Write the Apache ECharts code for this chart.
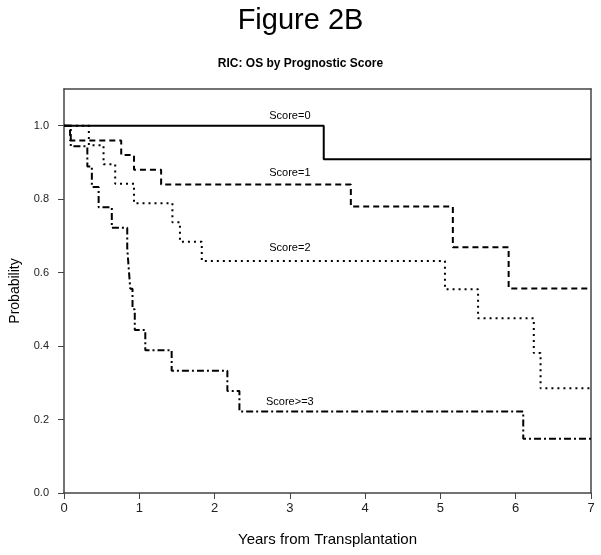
<!DOCTYPE html>
<html>
<head>
<meta charset="utf-8">
<script src="https://cdn.jsdelivr.net/npm/echarts@6/dist/echarts.min.js"></script>
<style>
html,body{margin:0;padding:0;background:#fff;}
#chart{width:601px;height:555px;}
</style>
</head>
<body>
<div id="chart"></div>
<script>
// ---- data ----
const xTicks = [0, 1, 2, 3, 4, 5, 6, 7];
const yTicks = [0, 0.2, 0.4, 0.6, 0.8, 1.0];
const seriesNames = ['Score=0', 'Score=1', 'Score=2', 'Score>=3'];
const score0 = [[0, 1], [3.45, 0.909], [7, 0.909]];
const score1 = [[0, 1], [0.08, 0.96], [0.76, 0.92], [0.93, 0.88], [1.29, 0.84], [3.81, 0.78], [5.165, 0.669], [5.906, 0.557], [7, 0.557]];
const score2 = [[0, 1], [0.33, 0.947], [0.525, 0.895], [0.68, 0.842], [0.93, 0.789], [1.44, 0.737], [1.54, 0.684], [1.83, 0.632], [5.06, 0.555], [5.50, 0.476], [6.24, 0.381], [6.33, 0.285], [7, 0.285]];
const score3 = [[0, 1], [0.09, 0.944], [0.31, 0.889], [0.37, 0.833], [0.46, 0.778], [0.635, 0.722], [0.84, 0.667], [0.86, 0.611], [0.88, 0.556], [0.91, 0.5], [0.94, 0.444], [1.08, 0.389], [1.43, 0.333], [2.17, 0.278], [2.33, 0.222], [6.10, 0.148], [7, 0.148]];
// label anchor points (data coords)
const labelAt = [[3.0, 1.027], [3.0, 0.872], [3.0, 0.668], [3.0, 0.248]];

const curves = [score0, score1, score2, score3];
const dashes = ['solid', [6, 4], [2, 4], [7, 3, 2, 3]];
const FONT = 'Liberation Sans, Arial, sans-serif';
const axisColor = '#444';

const chart = echarts.init(document.getElementById('chart'), null, {renderer: 'canvas'});
const option = {
  animation: false,
  backgroundColor: '#fff',
  title: [
    {text: 'Figure 2B', left: 'center', top: 1,
     textStyle: {fontFamily: FONT, fontSize: 29, fontWeight: 'normal', color: '#000'}},
    {text: 'RIC: OS by Prognostic Score', left: 'center', top: 53,
     textStyle: {fontFamily: FONT, fontSize: 12, fontWeight: 'bold', color: '#000'}}
  ],
  grid: {left: 62, right: 10, top: 89, bottom: 62, containLabel: false},
  xAxis: [
    {type: 'value', min: 0, max: 7, interval: 1, position: 'bottom',
     name: 'Years from Transplantation', nameLocation: 'middle', nameGap: 39,
     nameTextStyle: {fontFamily: FONT, fontSize: 15, color: '#000'},
     axisLine: {show: true, onZero: false, lineStyle: {color: axisColor, width: 1.5}},
     axisTick: {show: true, inside: false, length: 6, lineStyle: {color: axisColor},
       customValues: xTicks},
     axisLabel: {fontFamily: FONT, fontSize: 13, color: '#222', margin: 9, customValues: xTicks},
     splitLine: {show: false}},
    {type: 'value', min: 0, max: 7, position: 'top',
     axisLine: {show: true, onZero: false, lineStyle: {color: axisColor, width: 1.5}},
     axisTick: {show: false}, axisLabel: {show: false}, splitLine: {show: false}}
  ],
  yAxis: [
    {type: 'value', min: 0, max: 1.1, position: 'left',
     name: 'Probability', nameLocation: 'middle', nameGap: 42, nameRotate: 90,
     nameTextStyle: {fontFamily: FONT, fontSize: 14, color: '#000'},
     axisLine: {show: true, onZero: false, lineStyle: {color: axisColor, width: 1.5}},
     axisTick: {show: true, inside: false, length: 6, lineStyle: {color: axisColor},
       customValues: yTicks},
     axisLabel: {fontFamily: FONT, fontSize: 11, color: '#222', margin: 15,
       customValues: yTicks, formatter: v => v.toFixed(1)},
     splitLine: {show: false}},
    {type: 'value', min: 0, max: 1.1, position: 'right',
     axisLine: {show: true, onZero: false, lineStyle: {color: axisColor, width: 1.5}},
     axisTick: {show: false}, axisLabel: {show: false}, splitLine: {show: false}}
  ],
  series: curves.map((d, i) => ({
    name: seriesNames[i],
    type: 'line',
    step: 'end',
    data: d,
    xAxisIndex: 0, yAxisIndex: 0,
    showSymbol: false,
    symbol: 'none',
    lineStyle: {color: '#000', width: 2, type: dashes[i]},
    markPoint: {
      symbol: 'rect', symbolSize: [1, 1],
      itemStyle: {color: 'rgba(0,0,0,0)'},
      label: {show: true, position: 'inside', formatter: seriesNames[i],
        fontFamily: FONT, fontSize: 11, color: '#000'},
      data: [{coord: labelAt[i]}]
    }
  }))
};
chart.setOption(option);
</script>
</body>
</html>
